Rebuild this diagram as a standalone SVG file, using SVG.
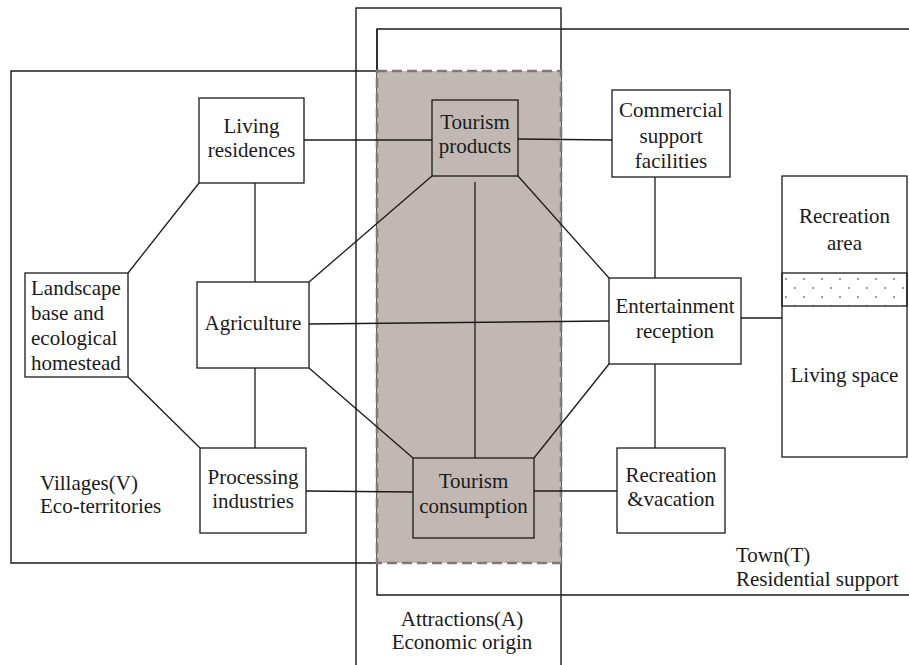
<svg xmlns="http://www.w3.org/2000/svg" width="909" height="665" viewBox="0 0 909 665">
<style>
.bg{fill:#ffffff}
.frame{fill:none;stroke:#1a1a1a;stroke-width:1.4}
.box{fill:#ffffff;stroke:#1a1a1a;stroke-width:1.3}
.gbox{fill:#c1b8b4;stroke:#1a1a1a;stroke-width:1.3}
.ln{stroke:#1a1a1a;stroke-width:1.3;fill:none}
text{font-family:"Liberation Serif","Times New Roman",serif;font-size:21px;fill:#1a1a1a}
.c{text-anchor:middle}
</style>
<defs>
<pattern id="dots" patternUnits="userSpaceOnUse" x="782" y="273" width="18" height="18">
<circle cx="4" cy="6" r="1" fill="#7a7a7a"/>
<circle cx="13" cy="15" r="1" fill="#7a7a7a"/>
</pattern>
</defs>
<rect class="bg" x="0" y="0" width="909" height="665"/>

<g id="zones">
<rect class="frame" x="356" y="8" width="205" height="680"/>
<path class="frame" d="M909 29 H377 V595 H909"/>
<path class="ln" d="M377 29 V71" stroke-width="2.4"/>
<path class="frame" d="M377 71 H11 V563 H377"/>
<rect x="377" y="71" width="184" height="492" fill="#c1b8b4" stroke="#827878" stroke-width="2.6" stroke-dasharray="10,5"/>
</g>

<g id="connectors">
<line class="ln" x1="304" y1="140" x2="432" y2="140"/>
<line class="ln" x1="518" y1="139" x2="612" y2="140"/>
<line class="ln" x1="199" y1="183" x2="128" y2="273"/>
<line class="ln" x1="128" y1="377" x2="200" y2="448"/>
<line class="ln" x1="255" y1="183" x2="255" y2="282"/>
<line class="ln" x1="255" y1="368" x2="255" y2="448"/>
<line class="ln" x1="309" y1="282" x2="432" y2="176"/>
<line class="ln" x1="309" y1="368" x2="413" y2="458"/>
<line class="ln" x1="309" y1="324" x2="609" y2="321"/>
<line class="ln" x1="475" y1="182" x2="475" y2="458"/>
<line class="ln" x1="518" y1="176" x2="609" y2="278"/>
<line class="ln" x1="609" y1="364" x2="534" y2="458"/>
<line class="ln" x1="306" y1="491" x2="413" y2="492"/>
<line class="ln" x1="534" y1="491" x2="617" y2="491"/>
<line class="ln" x1="655" y1="177" x2="655" y2="278"/>
<line class="ln" x1="655" y1="364" x2="655" y2="448"/>
<line class="ln" x1="741" y1="318" x2="782" y2="318"/>
</g>

<g id="living-residences">
<rect class="box" x="199" y="98" width="105" height="85"/>
<text class="c" x="251.5" y="133">Living</text>
<text class="c" x="251.5" y="157">residences</text>
</g>

<g id="landscape">
<rect class="box" x="25" y="273" width="103" height="104"/>
<text x="31" y="295">Landscape</text>
<text x="31" y="320">base and</text>
<text x="31" y="345">ecological</text>
<text x="31" y="370">homestead</text>
</g>

<g id="agriculture">
<rect class="box" x="197" y="282" width="112" height="86"/>
<text class="c" x="253" y="330">Agriculture</text>
</g>

<g id="processing">
<rect class="box" x="200" y="448" width="106" height="85"/>
<text class="c" x="253" y="484">Processing</text>
<text class="c" x="253" y="508">industries</text>
</g>

<g id="tourism-products">
<rect class="gbox" x="432" y="100" width="86" height="76"/>
<text class="c" x="475" y="129">Tourism</text>
<text class="c" x="475" y="153">products</text>
</g>

<g id="tourism-consumption">
<rect class="gbox" x="413" y="458" width="121" height="80"/>
<text class="c" x="473.5" y="488">Tourism</text>
<text class="c" x="473.5" y="513">consumption</text>
</g>

<g id="commercial">
<rect class="box" x="612" y="90" width="118" height="87"/>
<text class="c" x="671" y="117">Commercial</text>
<text class="c" x="671" y="143">support</text>
<text class="c" x="671" y="168">facilities</text>
</g>

<g id="entertainment">
<rect class="box" x="609" y="278" width="132" height="86"/>
<text class="c" x="675" y="313">Entertainment</text>
<text class="c" x="675" y="338">reception</text>
</g>

<g id="recreation-vacation">
<rect class="box" x="617" y="448" width="108" height="85"/>
<text class="c" x="671" y="482">Recreation</text>
<text class="c" x="671" y="506">&amp;vacation</text>
</g>

<g id="town-space">
<rect class="box" x="782" y="176" width="125" height="281"/>
<rect x="782" y="273" width="125" height="33" fill="url(#dots)" stroke="#1a1a1a" stroke-width="1.3"/>
<text class="c" x="844.5" y="223">Recreation</text>
<text class="c" x="844.5" y="250">area</text>
<text class="c" x="844.5" y="382">Living space</text>
</g>

<g id="labels">
<text x="40" y="490">Villages(V)</text>
<text x="40" y="513">Eco-territories</text>
<text x="736" y="562">Town(T)</text>
<text x="736" y="586">Residential support</text>
<text class="c" x="462" y="626">Attractions(A)</text>
<text class="c" x="462" y="649">Economic origin</text>
</g>
</svg>
